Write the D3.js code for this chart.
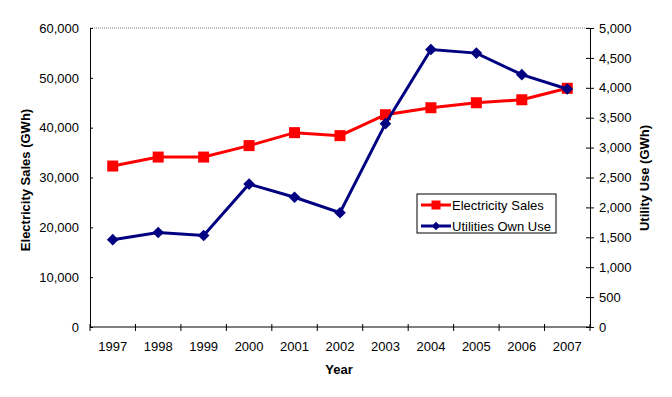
<!DOCTYPE html>
<html><head><meta charset="utf-8">
<script src="https://cdn.jsdelivr.net/npm/d3@7"></script>
<style>body{margin:0;background:#fff}svg{display:block}text{font-family:Arial,"Liberation Sans",sans-serif}</style>
</head><body><svg id="c" width="672" height="397"></svg>
<script>
const years = ["1997","1998","1999","2000","2001","2002","2003","2004","2005","2006","2007"];
const electricitySales = [32300,34100,34100,36400,39000,38400,42600,44000,45000,45600,47900];
const utilitiesOwnUse = [1460,1580,1530,2390,2170,1910,3400,4640,4580,4220,3980];
const leftTicks = [0,10000,20000,30000,40000,50000,60000];
const rightTicks = [0,500,1000,1500,2000,2500,3000,3500,4000,4500,5000];
const seriesNames = ["Electricity Sales","Utilities Own Use"];

const svg = d3.select("#c");
const L=90,R=590,T=28,B=327;
const FS="13px";
const x = d3.scaleBand().domain(years).range([L,R]);
const yL = d3.scaleLinear().domain([0,60000]).range([B,T]);
const yR = d3.scaleLinear().domain([0,5000]).range([B,T]);
const fmt = d3.format(",");

svg.append("line").attr("x1",L).attr("x2",R).attr("y1",T).attr("y2",T)
  .attr("stroke","#808080").attr("stroke-dasharray","1,1");

function styleAxis(g){
  g.select(".domain").attr("stroke","#000");
  g.selectAll(".tick line").attr("stroke","#000");
  g.selectAll(".tick text").attr("fill","#000").style("font-size",FS).style("font-family","Arial, 'Liberation Sans', sans-serif");
}
const gl = svg.append("g").attr("transform",`translate(${L},0)`)
  .call(d3.axisLeft(yL).tickValues(leftTicks).tickFormat(fmt).tickSizeInner(4).tickSizeOuter(0).tickPadding(7));
styleAxis(gl);
gl.selectAll(".tick line").attr("x2",3);
const gr = svg.append("g").attr("transform",`translate(${R},0)`)
  .call(d3.axisRight(yR).tickValues(rightTicks).tickFormat(fmt).tickSizeInner(4).tickSizeOuter(0).tickPadding(5));
styleAxis(gr);
gr.selectAll(".tick line").attr("x1",-4);
const xTickScale = d3.scaleLinear().domain([0,years.length]).range([L,R]);
const gb = svg.append("g").attr("transform",`translate(0,${B})`);
gb.append("line").attr("x1",L).attr("x2",R).attr("stroke","#000");
d3.range(years.length+1).forEach(i=>{
  gb.append("line").attr("x1",xTickScale(i)).attr("x2",xTickScale(i)).attr("y1",-3).attr("y2",4).attr("stroke","#000");
});
gb.selectAll("text.yr").data(years).join("text").attr("class","yr")
  .attr("x",d=>x(d)+x.bandwidth()/2).attr("y",24).attr("text-anchor","middle")
  .style("font-size",FS).text(d=>d);

svg.append("text").attr("x",339).attr("y",374).attr("text-anchor","middle")
  .style("font-size",FS).style("font-weight","bold").text("Year");
svg.append("text").attr("transform","translate(30,180) rotate(-90)").attr("text-anchor","middle")
  .style("font-size",FS).style("font-weight","bold").text("Electricity Sales (GWh)");
svg.append("text").attr("transform","translate(649,178) rotate(-90)").attr("text-anchor","middle")
  .style("font-size",FS).style("font-weight","bold").text("Utility Use (GWh)");

const cx = d=>x(d)+x.bandwidth()/2;
const red="#FF0000", navy="#000080";
svg.append("path").datum(electricitySales)
  .attr("fill","none").attr("stroke",red).attr("stroke-width",3)
  .attr("d",d3.line().x((d,i)=>cx(years[i])).y(d=>yL(d)));
svg.selectAll("rect.es").data(electricitySales).join("rect").attr("class","es")
  .attr("x",(d,i)=>cx(years[i])-5.5).attr("y",d=>yL(d)-5.5).attr("width",11).attr("height",11).attr("fill",red);

svg.append("path").datum(utilitiesOwnUse)
  .attr("fill","none").attr("stroke",navy).attr("stroke-width",3)
  .attr("d",d3.line().x((d,i)=>cx(years[i])).y(d=>yR(d)));
svg.selectAll("path.uo").data(utilitiesOwnUse).join("path").attr("class","uo")
  .attr("transform",(d,i)=>`translate(${cx(years[i])},${yR(d)}) rotate(45)`)
  .attr("d",d3.symbol().type(d3.symbolSquare).size(68)).attr("fill",navy);

const lg = svg.append("g");
lg.append("rect").attr("x",417).attr("y",194).attr("width",139).attr("height",39)
  .attr("fill","#fff").attr("stroke","#000");
const rowsY=[205,226];
lg.append("line").attr("x1",421).attr("x2",451).attr("y1",rowsY[0]).attr("y2",rowsY[0]).attr("stroke",red).attr("stroke-width",3);
lg.append("rect").attr("x",436-4.5).attr("y",rowsY[0]-4.5).attr("width",9).attr("height",9).attr("fill",red);
lg.append("line").attr("x1",421).attr("x2",451).attr("y1",rowsY[1]).attr("y2",rowsY[1]).attr("stroke",navy).attr("stroke-width",3);
lg.append("path").attr("transform",`translate(436,${rowsY[1]}) rotate(45)`).attr("d",d3.symbol().type(d3.symbolSquare).size(36)).attr("fill",navy);
lg.selectAll("text.lg").data(seriesNames).join("text").attr("class","lg")
  .attr("x",452).attr("y",(d,i)=>rowsY[i]+4.5).style("font-size",FS).text(d=>d);
</script></body></html>
